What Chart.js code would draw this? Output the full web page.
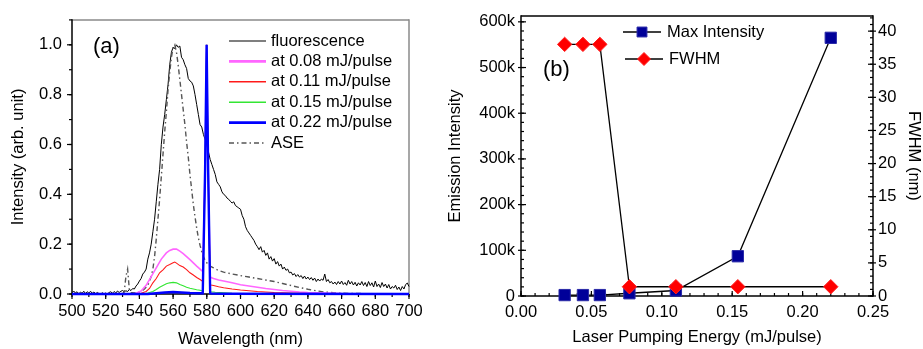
<!DOCTYPE html>
<html><head><meta charset="utf-8">
<script src="https://cdn.jsdelivr.net/npm/chart.js@4.4.1/dist/chart.umd.min.js"></script>
<style>
html,body{margin:0;padding:0;background:#fff;}
#wrap{position:relative;width:923px;height:349px;overflow:hidden;background:#fff;}
canvas{position:absolute;top:0;}
#ca{left:0;}
#cb{left:440px;}
</style></head><body>
<div id="wrap"><canvas id="ca" width="460" height="349"></canvas><canvas id="cb" width="483" height="349"></canvas></div>
<script>
// ---------- Panel (a) data ----------
const flWl = [500,501,502,503,504,505,506,507,508,509,510,511,512,513,514,515,516,517,518,519,
520,521,522,523,524,525,526,527,528,529,530,531,532,533,534,535,536,537,538,539,
540,541,542,543,544,545,546,547,548,549,550,551,552,553,554,555,556,557,558,559,
560,561,562,563,564,565,566,567,568,569,570,571,572,573,574,575,576,577,578,579,
580,581,582,583,584,585,586,587,588,589,590,591,592,593,594,595,596,597,598,599,
600,601,602,603,604,605,606,607,608,609,610,611,612,613,614,615,616,617,618,619,
620,621,622,623,624,625,626,627,628,629,630,631,632,633,634,635,636,637,638,639,
640,641,642,643,644,645,646,647,648,649,650,651,652,653,654,655,656,657,658,659,
660,661,662,663,664,665,666,667,668,669,670,671,672,673,674,675,676,677,678,679,
680,681,682,683,684,685,686,687,688,689,690,691,692,693,694,695,696,697,698,699,700];
const flVal = [0.005,0.012,0.004,0.009,0.001,0.007,0.003,0.011,0.002,0.009,
0.004,0.011,0.003,0.008,0.001,0.006,0.002,0.000,0.005,0.001,
0.004,0.000,0.006,0.009,0.003,0.010,0.004,0.012,0.006,0.011,
0.014,0.008,0.013,0.010,0.018,0.014,0.022,0.020,0.032,0.040,
0.052,0.062,0.080,0.088,0.100,0.140,0.165,0.200,0.250,0.300,
0.370,0.440,0.500,0.600,0.670,0.720,0.780,0.840,0.920,0.970,
0.990,0.985,1.000,0.990,0.995,0.950,0.940,0.920,0.905,0.865,
0.855,0.850,0.835,0.800,0.760,0.720,0.680,0.670,0.640,0.620,
0.600,0.570,0.540,0.520,0.500,0.480,0.450,0.440,0.430,0.410,
0.400,0.395,0.385,0.380,0.372,0.365,0.370,0.355,0.350,0.345,
0.340,0.315,0.300,0.270,0.255,0.245,0.235,0.225,0.215,0.200,
0.190,0.178,0.190,0.168,0.175,0.155,0.165,0.140,0.150,0.132,
0.142,0.120,0.130,0.112,0.120,0.100,0.108,0.095,0.100,0.085,
0.088,0.076,0.082,0.070,0.078,0.068,0.074,0.062,0.072,0.060,
0.068,0.058,0.066,0.055,0.064,0.050,0.060,0.052,0.060,0.055,
0.080,0.050,0.058,0.045,0.050,0.040,0.048,0.038,0.050,0.040,
0.052,0.038,0.046,0.035,0.055,0.040,0.050,0.036,0.047,0.032,
0.045,0.036,0.050,0.034,0.046,0.030,0.050,0.034,0.045,0.028,
0.052,0.030,0.040,0.026,0.046,0.030,0.040,0.024,0.038,0.020,
0.030,0.024,0.035,0.018,0.028,0.014,0.030,0.020,0.038,0.044,0.030];

const magWl = [500,535,538,541,544,547,550,553,556,558,560,562,564,566,568,570,572,574,576,577.6,579.0,579.9,580.8,582.0,582.5,584,587,590,595,600,605,610,615,620,625,630,635,640,650,660,680,700];
const magVal = [0,0,0.003,0.012,0.035,0.07,0.105,0.14,0.165,0.175,0.18,0.18,0.172,0.162,0.15,0.138,0.125,0.112,0.1,0.09,0.5,1.0,0.5,0.07,0.066,0.062,0.056,0.052,0.045,0.037,0.032,0.027,0.022,0.018,0.014,0.011,0.008,0.006,0.004,0.002,0.001,0.001];

const redWl = [500,538,541,544,546,548,550,552,554,556,558,560,561,562,564,566,568,570,572,574,576,577.6,579.0,579.9,580.8,582.0,582.5,584,587,590,595,600,605,610,620,630,640,660,700];
const redVal = [0,0,0.003,0.01,0.022,0.045,0.062,0.085,0.097,0.112,0.118,0.125,0.128,0.124,0.114,0.108,0.098,0.085,0.076,0.066,0.058,0.05,0.5,1.0,0.5,0.04,0.036,0.034,0.029,0.025,0.02,0.016,0.013,0.01,0.006,0.004,0.002,0.001,0];

const greenWl = [500,542,545,548,550,552,554,556,558,560,562,564,566,568,570,572,574,576,577.6,579.0,579.9,580.8,582.0,582.5,585,590,595,600,610,620,700];
const greenVal = [0,0,0.004,0.01,0.018,0.027,0.034,0.041,0.045,0.047,0.045,0.038,0.033,0.027,0.023,0.02,0.017,0.015,0.012,0.5,1.0,0.5,0.01,0.009,0.007,0.005,0.003,0.002,0.001,0,0];

const blueWl = [500,545,550,555,560,565,570,575,577.6,579.0,579.9,580.8,582.0,582.5,590,700];
const blueVal = [0,0,0.003,0.006,0.008,0.006,0.004,0.003,0.003,0.5,1.0,0.5,0.004,0.002,0.001,0];

const aseWl = [500,530,531,532,533,534,535,538,541,543,545,547,548,549,550,551,552,553,554,555,556,557,558,559,560,561,562,563,564,565,566,567,568,569,570,571,572,573,574,575,576,577,578,579,580,582,584,586,588,590,595,600,605,610,615,620,625,630,635,640,645,650,655,660,670,680,690,700];
const aseVal = [0,0,0.01,0.07,0.1,0.02,0.005,0.005,0.01,0.02,0.035,0.07,0.1,0.15,0.22,0.3,0.38,0.47,0.56,0.65,0.73,0.82,0.89,0.95,0.99,1.0,0.97,0.92,0.86,0.8,0.74,0.68,0.61,0.55,0.48,0.42,0.36,0.31,0.265,0.225,0.195,0.17,0.15,0.135,0.125,0.112,0.105,0.098,0.092,0.088,0.08,0.074,0.068,0.062,0.056,0.05,0.042,0.034,0.026,0.019,0.013,0.008,0.005,0.003,0.002,0.001,0.001,0.001];

const seriesLabelsA = ['fluorescence','at 0.08 mJ/pulse','at 0.11 mJ/pulse','at 0.15 mJ/pulse','at 0.22 mJ/pulse','ASE'];

// ---------- Panel (b) data ----------
const energy = [0.031,0.044,0.056,0.077,0.110,0.154,0.220];
const maxIntensity = [2000,2000,2000,6000,12000,87000,565000];
const fwhm = [38,38,38,1.4,1.4,1.4,1.4];
const seriesLabelsB = ['Max Intensity','FWHM'];
const intensityTicks = [0,100000,200000,300000,400000,500000,600000];

// ---------- helpers ----------
const FONT = "'Liberation Sans', Arial, Helvetica, sans-serif";
Chart.defaults.font.family = FONT;
Chart.defaults.font.size = 16.5;
Chart.defaults.color = '#000';
const pts = (xs, ys) => xs.map((x, i) => ({x, y: ys[i]}));

function marker(ctx, type, x, y, r, fill, stroke) {
  ctx.beginPath();
  if (type === 'rect') { const s = r * Math.SQRT1_2; ctx.rect(x - s, y - s, 2 * s, 2 * s); }
  else { ctx.moveTo(x - r, y); ctx.lineTo(x, y - r); ctx.lineTo(x + r, y); ctx.lineTo(x, y + r); ctx.closePath(); }
  ctx.fillStyle = fill; ctx.fill();
  ctx.lineWidth = 1; ctx.strokeStyle = stroke; ctx.stroke();
}

const deco = {
  id: 'deco',
  beforeDatasetsDraw(chart, args, o) {
    const ctx = chart.ctx, ca = chart.chartArea;
    ctx.save();
    ctx.lineCap = 'butt';
    for (const e of o.edges) {
      ctx.beginPath(); ctx.strokeStyle = e.color; ctx.lineWidth = e.width;
      if (e.side === 'left') { ctx.moveTo(ca.left, ca.top - e.width/2); ctx.lineTo(ca.left, ca.bottom + e.width/2); }
      if (e.side === 'right') { ctx.moveTo(ca.right, ca.top - e.width/2); ctx.lineTo(ca.right, ca.bottom + e.width/2); }
      if (e.side === 'top') { ctx.moveTo(ca.left, ca.top); ctx.lineTo(ca.right, ca.top); }
      if (e.side === 'bottom') { ctx.moveTo(ca.left, ca.bottom); ctx.lineTo(ca.right, ca.bottom); }
      ctx.stroke();
    }
    for (const t of o.ticks) {
      const sc = chart.scales[t.id];
      const draw = (v, inL, outL) => {
        const p = sc.getPixelForValue(v);
        ctx.beginPath();
        if (t.side === 'bottom') { ctx.moveTo(p, ca.bottom - inL); ctx.lineTo(p, ca.bottom + outL); }
        else if (t.side === 'left') { ctx.moveTo(ca.left - outL, p); ctx.lineTo(ca.left + inL, p); }
        else { ctx.moveTo(ca.right - inL, p); ctx.lineTo(ca.right + outL, p); }
        ctx.stroke();
      };
      ctx.strokeStyle = '#000'; ctx.lineWidth = t.width;
      const n = Math.round((sc.max - sc.min) / t.minor);
      for (let i = 0; i <= n; i++) { const v = sc.min + i * t.minor; if (v <= sc.max + 1e-9) draw(v, t.minorIn, t.minorOut); }
      for (const tk of sc.ticks) draw(tk.value, t.majorIn, t.majorOut);
    }
    ctx.restore();
  },
  afterDatasetsDraw(chart, args, o) {
    const ctx = chart.ctx;
    ctx.save();
    ctx.font = '16.5px ' + FONT;
    ctx.textBaseline = 'middle'; ctx.textAlign = 'left'; ctx.fillStyle = '#000';
    o.legend.forEach((it) => {
      const ds = chart.data.datasets[it.ds];
      ctx.save();
      ctx.beginPath();
      ctx.strokeStyle = it.lineColor || ds.borderColor;
      ctx.lineWidth = it.lineWidth;
      ctx.setLineDash(ds.borderDash || []);
      ctx.moveTo(it.x1, it.y); ctx.lineTo(it.x2, it.y); ctx.stroke();
      ctx.restore();
      if (it.marker) marker(ctx, it.marker, it.mx, it.y, it.r, ds.pointBackgroundColor, ds.pointBorderColor);
      ctx.fillStyle = '#000';
      ctx.fillText(ds.label, it.tx, it.y);
    });
    ctx.font = '22px ' + FONT;
    ctx.fillText(o.panel.text, o.panel.x, o.panel.y);
    ctx.restore();
  }
};

const baseOpts = {
  responsive: false, animation: false, events: [],
  elements: { point: { radius: 0 }, line: { tension: 0 } },
};

// ---------- Chart (a) ----------
new Chart(document.getElementById('ca'), {
  type: 'line',
  data: { datasets: [
    { label: seriesLabelsA[0], data: pts(flWl, flVal), borderColor: '#000000', borderWidth: 1, clip: false, order: 6 },
    { label: seriesLabelsA[1], data: pts(magWl, magVal), borderColor: '#ff66ff', borderWidth: 1.6, clip: false, order: 4 },
    { label: seriesLabelsA[2], data: pts(redWl, redVal), borderColor: '#ff1a1a', borderWidth: 1.1, clip: false, order: 3 },
    { label: seriesLabelsA[3], data: pts(greenWl, greenVal), borderColor: '#33e633', borderWidth: 1.2, clip: false, order: 2 },
    { label: seriesLabelsA[4], data: pts(blueWl, blueVal), borderColor: '#0000ff', borderWidth: 2.4, clip: false, order: 1 },
    { label: seriesLabelsA[5], data: pts(aseWl, aseVal), borderColor: '#555555', borderWidth: 1.4, borderDash: [5, 3, 1.5, 3], clip: false, order: 5 }
  ]},
  options: Object.assign({}, baseOpts, {
    layout: { padding: { top: 8, right: 51, left: 0, bottom: 0 } },
    scales: {
      x: { type: 'linear', min: 500, max: 700,
        afterFit(s) { s.height = 55; },
        grid: { display: false, drawTicks: false }, border: { display: false },
        ticks: { stepSize: 20, padding: 8, includeBounds: false, autoSkip: false, maxRotation: 0, minRotation: 0, callback: v => String(Math.round(v)) },
        title: { display: true, text: 'Wavelength (nm)', padding: { top: 0, bottom: 0 } } },
      y: { type: 'linear', min: 0, max: 1.1,
        afterFit(s) { s.width = 72; },
        grid: { display: false, drawTicks: false }, border: { display: false },
        ticks: { stepSize: 0.2, padding: 10, includeBounds: false, callback: v => v.toFixed(1) },
        title: { display: true, text: 'Intensity (arb. unit)', padding: { top: 8.5, bottom: 0 } } }
    },
    plugins: {
      legend: { display: false }, tooltip: { enabled: false },
      deco: {
        edges: [
          { side: 'top', color: '#8a8a8a', width: 1.5 },
          { side: 'right', color: '#8a8a8a', width: 1.5 },
          { side: 'left', color: '#000', width: 1.5 },
          { side: 'bottom', color: '#000', width: 1.5 }
        ],
        ticks: [
          { id: 'x', side: 'bottom', width: 1.2, minor: 10, majorIn: 0, majorOut: 5, minorIn: 0, minorOut: 3 },
          { id: 'y', side: 'left', width: 1.2, minor: 0.1, majorIn: 0, majorOut: 5, minorIn: 0, minorOut: 3 }
        ],
        legend: [
          { ds: 0, x1: 229, x2: 266, y: 41, tx: 271, lineWidth: 1.2 },
          { ds: 1, x1: 229, x2: 266, y: 61.4, tx: 271, lineWidth: 2.6 },
          { ds: 2, x1: 229, x2: 266, y: 81.8, tx: 271, lineWidth: 1.4 },
          { ds: 3, x1: 229, x2: 266, y: 102.2, tx: 271, lineWidth: 1.6 },
          { ds: 4, x1: 229, x2: 266, y: 122.6, tx: 271, lineWidth: 2.6 },
          { ds: 5, x1: 229, x2: 266, y: 143, tx: 271, lineWidth: 1.4 }
        ],
        panel: { text: '(a)', x: 93, y: 47 }
      }
    }
  }),
  plugins: [deco]
});

// ---------- Chart (b) ----------
new Chart(document.getElementById('cb'), {
  type: 'line',
  data: { datasets: [
    { label: seriesLabelsB[0], data: pts(energy, maxIntensity), yAxisID: 'y', order: 1, clip: false,
      borderColor: '#000', borderWidth: 1.3, pointStyle: 'rect', pointRadius: 8,
      pointBackgroundColor: '#000099', pointBorderColor: '#2a2aa8', pointBorderWidth: 1 },
    { label: seriesLabelsB[1], data: pts(energy, fwhm), yAxisID: 'y1', order: 0, clip: false,
      borderColor: '#000', borderWidth: 1.3, pointStyle: 'rectRot', pointRadius: 7.2,
      pointBackgroundColor: '#ff0000', pointBorderColor: '#ff2020', pointBorderWidth: 1 }
  ]},
  options: Object.assign({}, baseOpts, {
    layout: { padding: { top: 11, right: 0, left: 0, bottom: 0 } },
    scales: {
      x: { type: 'linear', min: 0, max: 0.25,
        afterFit(s) { s.height = 53; },
        grid: { display: false, drawTicks: false }, border: { display: false },
        ticks: { stepSize: 0.05, padding: 7, includeBounds: false, autoSkip: false, maxRotation: 0, minRotation: 0, callback: v => v.toFixed(2) },
        title: { display: true, text: 'Laser Pumping Energy (mJ/pulse)', padding: { top: 0, bottom: 2 } } },
      y: { type: 'linear', position: 'left', min: 0, max: 613000,
        afterFit(s) { s.width = 81; },
        afterBuildTicks(s) { s.ticks = intensityTicks.map(v => ({ value: v })); },
        grid: { display: false, drawTicks: false }, border: { display: false },
        ticks: { padding: 6, callback: v => v === 0 ? '0' : (Math.round(v / 1000) + 'k') },
        title: { display: true, text: 'Emission Intensity', padding: { top: 6, bottom: 0 } } },
      y1: { type: 'linear', position: 'right', min: 0, max: 42.3,
        afterFit(s) { s.width = 50; },
        grid: { display: false, drawTicks: false }, border: { display: false },
        ticks: { stepSize: 5, padding: 5, includeBounds: false, callback: v => String(Math.round(v)) },
        title: { display: true, text: 'FWHM (nm)', padding: { top: 0, bottom: 0 } } }
    },
    plugins: {
      legend: { display: false }, tooltip: { enabled: false },
      deco: {
        edges: [
          { side: 'top', color: '#000', width: 1.5 },
          { side: 'right', color: '#000', width: 1.5 },
          { side: 'left', color: '#000', width: 1.5 },
          { side: 'bottom', color: '#000', width: 1.5 }
        ],
        ticks: [
          { id: 'x', side: 'bottom', width: 1.2, minor: 0.01, majorIn: 5, majorOut: 0, minorIn: 3, minorOut: 0 },
          { id: 'y', side: 'left', width: 1.2, minor: 20000, majorIn: 5, majorOut: 3, minorIn: 3, minorOut: 0 },
          { id: 'y1', side: 'right', width: 1.2, minor: 1, majorIn: 5, majorOut: 3, minorIn: 3, minorOut: 0 }
        ],
        legend: [
          { ds: 0, x1: 183, x2: 221, y: 32, tx: 227, lineWidth: 1.3, lineColor: '#000', marker: 'rect', mx: 202, r: 7 },
          { ds: 1, x1: 185, x2: 223, y: 59, tx: 229, lineWidth: 1.3, lineColor: '#000', marker: 'rectRot', mx: 204, r: 6.5 }
        ],
        panel: { text: '(b)', x: 103, y: 70 }
      }
    }
  }),
  plugins: [deco]
});
</script>
</body></html>
